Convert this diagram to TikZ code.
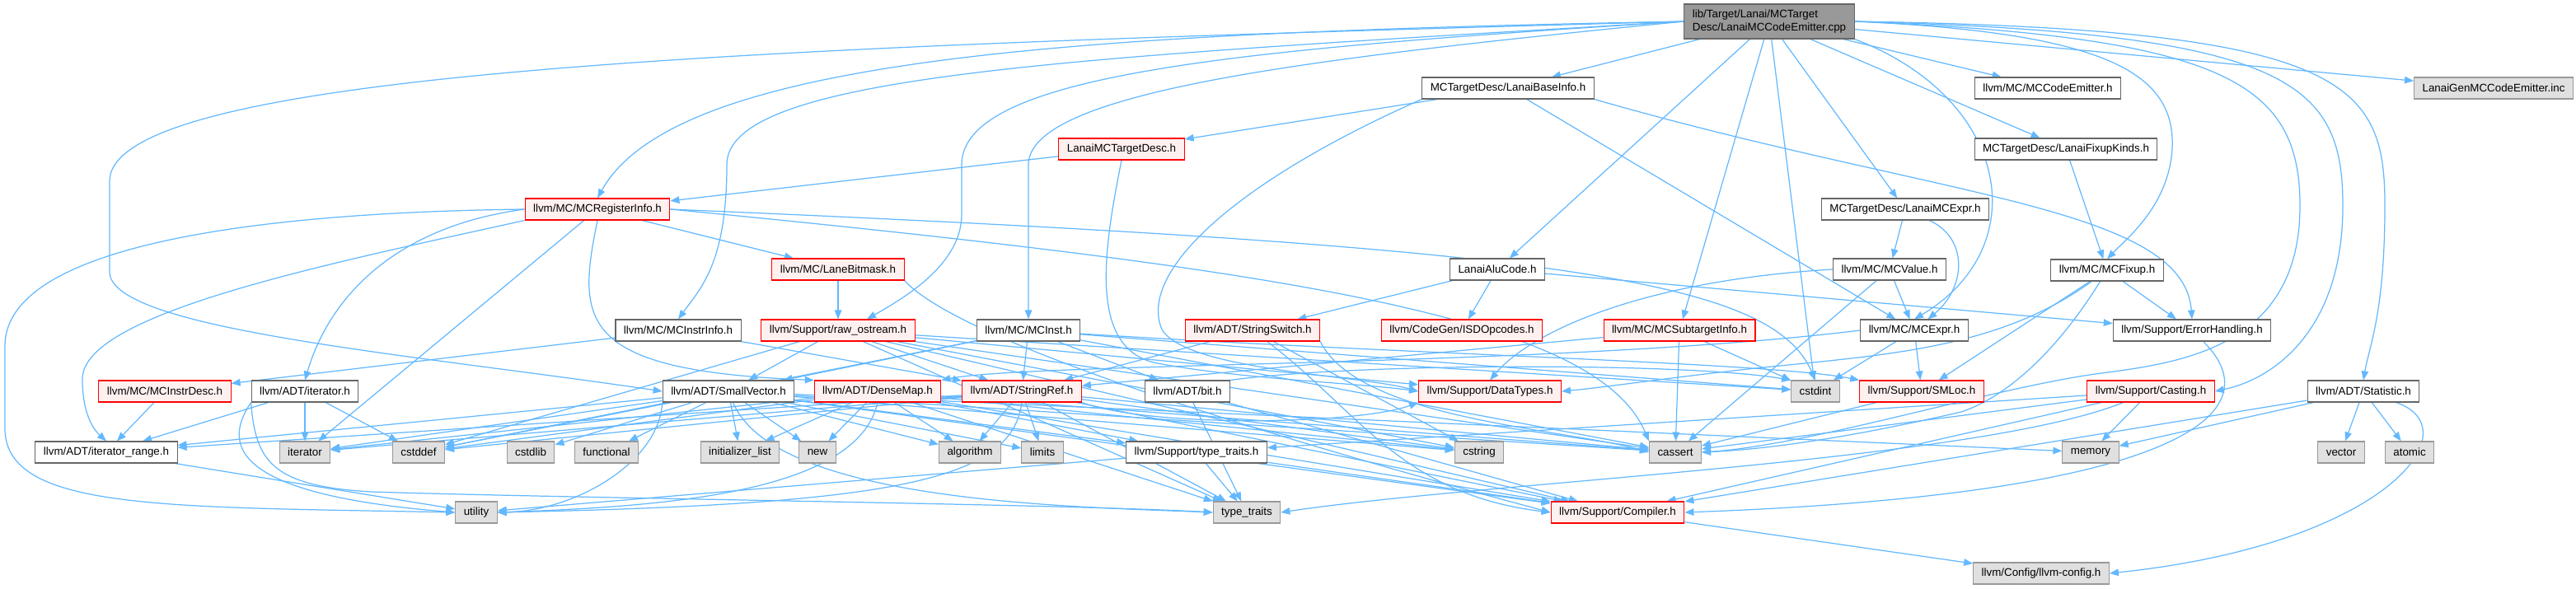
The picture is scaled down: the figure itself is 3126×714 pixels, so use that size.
\documentclass[tikz,border=0pt]{standalone}
\usepackage{fontspec}
\setmainfont{Liberation Sans}
\usepackage{xcolor}
\usepackage{tikz}
\usetikzlibrary{arrows.meta,calc}
\definecolor{depblue}{HTML}{63B8FF}
\definecolor{filegray}{HTML}{666666}
\definecolor{sysgray}{HTML}{999999}
\definecolor{sysfill}{HTML}{E0E0E0}
\definecolor{truncfill}{HTML}{FFF0F0}
\pgfdeclarelayer{edges}
\pgfsetlayers{edges,main}
\begin{document}
\begin{tikzpicture}[x=0.02cm,y=-0.02cm,font=\fontsize{7.6}{8.8}\selectfont,
  hdr/.style={draw=filegray,fill=white,line width=0.6pt,minimum height=0.52cm,inner xsep=0.2cm,inner ysep=0pt},
  trunc/.style={hdr,draw=red,fill=truncfill},
  sys/.style={hdr,draw=sysgray,fill=sysfill},
  root/.style={hdr,fill=sysgray,minimum height=0.84cm,align=left},
  dep/.style={draw=depblue,line width=0.7pt,-{Triangle[length=0.22cm,width=0.17cm]}}]
\useasboundingbox (0,0) rectangle (3126,714);
\node[root] (emitter) at (2147,26) {lib/Target/Lanai/MCTarget\\Desc/LanaiMCCodeEmitter.cpp};
\node[hdr] (baseinfo) at (1830,107) {MCTargetDesc/LanaiBaseInfo.h};
\node[hdr] (codeemit) at (2485,107) {llvm/MC/MCCodeEmitter.h};
\node[sys] (geninc) at (3026,107) {LanaiGenMCCodeEmitter.inc};
\node[trunc] (targetdesc) at (1361,181) {LanaiMCTargetDesc.h};
\node[hdr] (fixupkinds) at (2507,181) {MCTargetDesc/LanaiFixupKinds.h};
\node[trunc] (reginfo) at (725,254) {llvm/MC/MCRegisterInfo.h};
\node[hdr] (lanaiexpr) at (2312,254) {MCTargetDesc/LanaiMCExpr.h};
\node[trunc] (lanebm) at (1017,327) {llvm/MC/LaneBitmask.h};
\node[hdr] (alucode) at (1817,327) {LanaiAluCode.h};
\node[hdr] (mcvalue) at (2293,327) {llvm/MC/MCValue.h};
\node[hdr] (mcfixup) at (2557,328) {llvm/MC/MCFixup.h};
\node[hdr] (instrinfo) at (823,401) {llvm/MC/MCInstrInfo.h};
\node[trunc] (rawos) at (1017,401) {llvm/Support/raw\_ostream.h};
\node[hdr] (mcinst) at (1248,401) {llvm/MC/MCInst.h};
\node[trunc] (strswitch) at (1520,401) {llvm/ADT/StringSwitch.h};
\node[trunc] (isdop) at (1774,401) {llvm/CodeGen/ISDOpcodes.h};
\node[trunc] (subtarget) at (2038,401) {llvm/MC/MCSubtargetInfo.h};
\node[hdr] (mcexpr) at (2323,401) {llvm/MC/MCExpr.h};
\node[hdr] (errh) at (2660,401) {llvm/Support/ErrorHandling.h};
\node[trunc] (instrdesc) at (200,475) {llvm/MC/MCInstrDesc.h};
\node[hdr] (iter) at (370,475) {llvm/ADT/iterator.h};
\node[hdr] (smallvec) at (884,475) {llvm/ADT/SmallVector.h};
\node[trunc] (densemap) at (1065,475) {llvm/ADT/DenseMap.h};
\node[trunc] (strref) at (1240,475) {llvm/ADT/StringRef.h};
\node[hdr] (bit) at (1441,475) {llvm/ADT/bit.h};
\node[trunc] (datatypes) at (1808,475) {llvm/Support/DataTypes.h};
\node[sys] (cstdint) at (2203,475) {cstdint};
\node[trunc] (smloc) at (2332,475) {llvm/Support/SMLoc.h};
\node[trunc] (casting) at (2610,475) {llvm/Support/Casting.h};
\node[hdr] (statistic) at (2868,475) {llvm/ADT/Statistic.h};
\node[hdr] (iterrange) at (129,549) {llvm/ADT/iterator\_range.h};
\node[sys] (iterstd) at (370,549) {iterator};
\node[sys] (cstddef) at (508,549) {cstddef};
\node[sys] (cstdlib) at (644,549) {cstdlib};
\node[sys] (functional) at (736,549) {functional};
\node[sys] (initlist) at (898,549) {initializer\_list};
\node[sys] (newhdr) at (992,549) {new};
\node[sys] (algorithm) at (1177,549) {algorithm};
\node[sys] (limits) at (1265,549) {limits};
\node[hdr] (supptraits) at (1452,549) {llvm/Support/type\_traits.h};
\node[sys] (cstring) at (1795,549) {cstring};
\node[sys] (cassert) at (2033,549) {cassert};
\node[sys] (memory) at (2537,549) {memory};
\node[sys] (vector) at (2841,549) {vector};
\node[sys] (atomic) at (2924,549) {atomic};
\node[sys] (utility) at (578,622) {utility};
\node[sys] (typetraits) at (1513,622) {type\_traits};
\node[trunc] (compiler) at (1963,622) {llvm/Support/Compiler.h};
\node[sys] (llvmconfig) at (2477,696) {llvm/Config/llvm-config.h};

\begin{pgfonlayer}{edges}
\foreach \t in {baseinfo,alucode,subtarget,cstdint,lanaiexpr,codeemit,fixupkinds,geninc}
  \draw[dep] (emitter) -- (\t);
\draw[dep] (emitter.west) .. controls (1000,55) and (133,80) .. (133,220) -- (133,330) .. controls (133,400) and (500,430) .. (smallvec.west);
\draw[dep] (emitter.west) .. controls (1300,40) and (820,70) .. (reginfo.north);
\draw[dep] (emitter.west) .. controls (1300,70) and (882,90) .. (882,200) .. controls (882,320) and (850,350) .. (instrinfo.north);
\draw[dep] (emitter.west) .. controls (1500,60) and (1167,90) .. (1167,200) -- (1167,260) .. controls (1167,320) and (1100,360) .. ($(rawos.north)+(35,0)$);
\draw[dep] (emitter.west) .. controls (1600,70) and (1248,110) .. (1248,200) -- (mcinst.north);
\draw[dep] (emitter.south east) .. controls (2440,120) and (2470,300) .. (mcexpr.north);
\draw[dep] (emitter.east) .. controls (2560,40) and (2640,90) .. (2636,180) .. controls (2632,250) and (2580,290) .. (mcfixup.north);
\draw[dep] (emitter.east) .. controls (2700,45) and (2791,100) .. (2791,250) .. controls (2791,420) and (2650,440) .. (2550,453) .. controls (2420,470) and (2200,540) .. (cassert.east);
\draw[dep] (emitter.east) .. controls (2780,40) and (2843,100) .. (2843,250) .. controls (2843,400) and (2760,460) .. (casting.east);
\draw[dep] (emitter.east) .. controls (2850,35) and (2894,100) .. (2894,250) .. controls (2894,380) and (2875,420) .. (statistic.north);

\draw[dep] (baseinfo) -- (targetdesc);
\draw[dep] (baseinfo) -- (mcexpr);
\draw[dep] (baseinfo.south east) .. controls (2350,240) and (2650,250) .. (errh.north);
\draw[dep] (baseinfo.south west) .. controls (1500,220) and (1380,330) .. (1410,400) .. controls (1440,450) and (1650,455) .. (datatypes.west);
\draw[dep] (targetdesc) -- (reginfo);
\draw[dep] (targetdesc.south) .. controls (1340,300) and (1320,420) .. (1400,440) .. controls (1500,460) and (1650,465) .. (datatypes.west);

\foreach \t in {lanebm,iterstd}
  \draw[dep] (reginfo) -- (\t);
\draw[dep] (reginfo.west) .. controls (300,258) and (6,300) .. (6,420) -- (6,520) .. controls (6,620) and (200,615) .. (utility.west);
\draw[dep] (reginfo.west) .. controls (480,275) and (400,360) .. (iter.north);
\draw[dep] (reginfo.south west) .. controls (400,320) and (100,380) .. (100,460) .. controls (100,500) and (112,520) .. (iterrange.north);
\draw[dep] (reginfo.south) .. controls (700,390) and (700,450) .. (densemap.north west);
\draw[dep] (reginfo.east) .. controls (1900,300) and (2150,340) .. (cstdint.north);
\draw[dep] (reginfo.east) .. controls (1600,330) and (1940,390) .. (cassert.north west);

\draw[dep] (lanebm) -- (rawos);
\draw[dep] (lanebm.south east) .. controls (1160,410) and (1500,520) .. (compiler.west);
\foreach \t in {strswitch,isdop,errh}
  \draw[dep] (alucode) -- (\t);
\foreach \t in {smallvec,strref,datatypes,cassert,cstddef,cstdint,cstring,compiler,typetraits}
  \draw[dep] (rawos) -- (\t);
\foreach \t in {smallvec,strref,bit,cassert,cstddef,cstdint}
  \draw[dep] (mcinst) -- (\t);
\draw[dep] (mcinst) .. controls (1700,430) and (2150,440) .. (smloc.north west);
\foreach \t in {instrdesc,strref}
  \draw[dep] (instrinfo) -- (\t);
\draw[dep] (strswitch) -- (strref);
\draw[dep] (strswitch) -- (cstring);
\draw[dep] (strswitch) .. controls (1650,500) and (1700,600) .. (compiler.west);
\draw[dep] (strswitch.south east) .. controls (1650,510) and (1900,520) .. (cassert.west);
\foreach \t in {strref,cassert,cstdint}
  \draw[dep] (subtarget) -- (\t);

\draw[dep] (lanaiexpr) -- (mcvalue);
\draw[dep] (lanaiexpr) .. controls (2390,290) and (2385,350) .. (mcexpr);
\draw[dep] (mcvalue) -- (mcexpr);
\draw[dep] (mcvalue) -- (cassert);
\draw[dep] (mcvalue.west) .. controls (2000,340) and (1860,400) .. (datatypes.north);
\foreach \t in {smloc,cstdint}
  \draw[dep] (mcexpr) -- (\t);
\draw[dep] (mcexpr.west) .. controls (1900,445) and (1250,440) .. (densemap.north east);
\draw[dep] (fixupkinds) -- (mcfixup);
\foreach \t in {errh,smloc}
  \draw[dep] (mcfixup) -- (\t);
\draw[dep] (mcfixup) .. controls (2430,420) and (2300,430) .. (2150,445) .. controls (2050,455) and (1950,470) .. (datatypes.east);
\draw[dep] (mcfixup) .. controls (2500,420) and (2440,480) .. (2380,500) .. controls (2250,530) and (2150,545) .. (cassert.east);
\draw[dep] (errh) .. controls (2760,500) and (2650,600) .. (compiler.east);
\draw[dep] (smloc) -- (cassert);
\foreach \t in {memory,cassert,supptraits,compiler}
  \draw[dep] (casting) -- (\t);
\draw[dep] (casting) .. controls (2400,560) and (1800,585) .. (typetraits.east);
\foreach \t in {memory,vector,atomic,compiler}
  \draw[dep] (statistic) -- (\t);
\draw[dep] (statistic) .. controls (3000,520) and (2900,660) .. (llvmconfig.east);
\draw[dep] (compiler) -- (llvmconfig);

\foreach \t in {supptraits,compiler,algorithm,cassert,cstddef,cstdlib,cstring,functional,initlist,iterstd,iterrange,limits,memory,newhdr}
  \draw[dep] (smallvec) -- (\t);
\draw[dep] (smallvec) .. controls (940,610) and (1300,615) .. (typetraits.west);
\draw[dep] (smallvec.south west) .. controls (800,560) and (700,620) .. (utility.east);
\foreach \t in {compiler,supptraits,algorithm,cassert,cstddef,cstring,initlist,iterstd,newhdr,typetraits}
  \draw[dep] (densemap) -- (\t);
\draw[dep] (densemap.south) .. controls (1040,600) and (800,615) .. (utility.east);
\foreach \t in {iterrange,compiler,algorithm,cassert,cstddef,cstring,iterstd,limits,typetraits}
  \draw[dep] (strref) -- (\t);
\draw[dep] (strref.south east) .. controls (1400,520) and (1650,515) .. (datatypes.south west);
\draw[dep] (strref.south) .. controls (1228,580) and (1100,612) .. (utility.east);
\draw[dep] (bit) -- (compiler);
\draw[dep] (bit) -- (typetraits);
\draw[dep] (bit.north east) .. controls (1650,440) and (2050,440) .. (cstdint.north west);
\foreach \t in {typetraits,utility,compiler}
  \draw[dep] (supptraits) -- (\t);
\foreach \t in {iterrange,iterstd,cstddef}
  \draw[dep] (iter) -- (\t);
\draw[dep] (iter.south west) .. controls (270,540) and (280,600) .. (utility.west);
\draw[dep] (iter.south west) .. controls (310,560) and (330,590) .. (450,597) .. controls (700,605) and (1300,612) .. (typetraits.west);
\draw[dep] (iterrange) -- (utility);
\draw[dep] (instrdesc) -- (iterrange);
\end{pgfonlayer}
\end{tikzpicture}
\end{document}
